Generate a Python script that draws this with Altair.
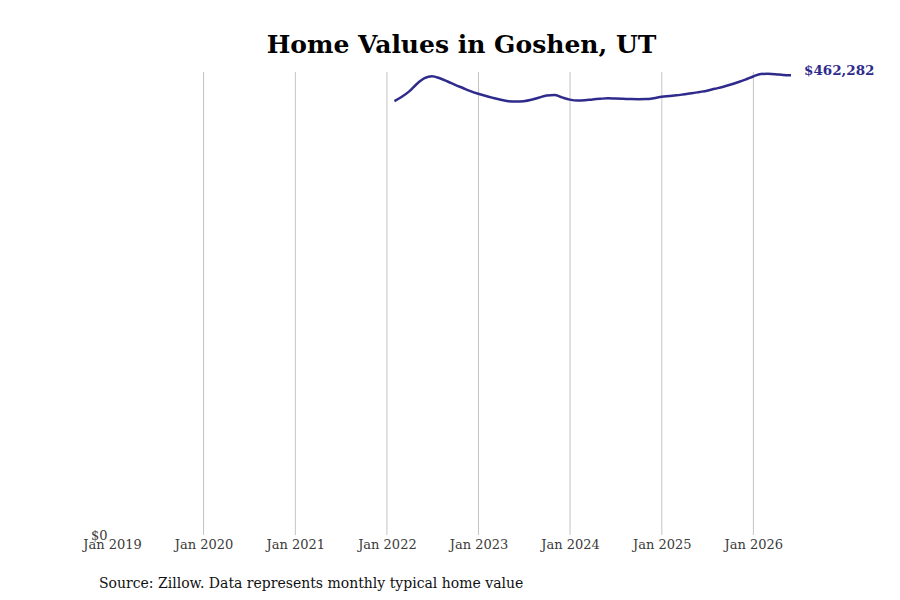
import pandas as pd
import altair as alt

# ── data ───────────────────────────────────────────────────────────────────────

MONTHS = pd.date_range("2022-01-31", periods=53, freq="ME").strftime("%Y-%m-%d").tolist()

HOME_VALUES = [
    436400, 440450, 446080, 453530, 459360, 461370, 459260, 456040, 452720, 449500, 446390, 443770,
    441460, 439550, 437640, 436230, 435830, 436230, 437640, 439950, 441960, 442460, 440050, 437840,
    436930, 437240, 438040, 438650, 439150, 438940, 438650, 438340, 438240, 438340, 439250, 440650,
    441460, 442160, 443170, 444170, 445480, 446790, 448700, 450510, 452820, 455340, 457950, 461070,
    463580, 463880, 463380, 462500, 462282,
]

GRID_YEARS = ["2020-01-01", "2021-01-01", "2022-01-01", "2023-01-01",
              "2024-01-01", "2025-01-01", "2026-01-01"]
TICK_YEARS = ["2019-01-01"] + GRID_YEARS

TITLE = "Home Values in Goshen, UT"
SOURCE = "Source: Zillow. Data represents monthly typical home value"

# ── styling ────────────────────────────────────────────────────────────────────

FONT = "DejaVu Serif"
LINE_COLOR = "#2f2b8c"
W, H = 679, 463

df = pd.DataFrame({"date": MONTHS, "value": HOME_VALUES})
last = df.tail(1).assign(label=lambda d: d["value"].map(lambda v: f"${v:,}"))
grid = pd.DataFrame({"date": GRID_YEARS})

x_scale = alt.Scale(type="utc", domain=["2019-01-01", MONTHS[-1]])
y_scale = alt.Scale(domain=[0, 465600], nice=False)

x_axis = alt.Axis(
    values=TICK_YEARS, format="%b %Y", grid=False, domain=False, ticks=False,
    labelFont=FONT, labelFontSize=13, labelColor="#3a3a3a", labelPadding=3,
    labelFlush=False, labelOverlap=False,
)
y_axis = alt.Axis(
    values=[0], format="$,.0f", grid=False, domain=False, ticks=False,
    labelFont=FONT, labelFontSize=13, labelColor="#3a3a3a", labelPadding=5,
)

rules = alt.Chart(grid).mark_rule(color="#c4c4c4", strokeWidth=1).encode(
    x=alt.X("date:T", scale=x_scale, axis=x_axis, title=None),
    y=alt.value(0),
    y2=alt.value(H),
)

line = alt.Chart(df).mark_line(
    color=LINE_COLOR, strokeWidth=2.5, interpolate="monotone"
).encode(
    x=alt.X("date:T", scale=x_scale, axis=x_axis, title=None),
    y=alt.Y("value:Q", scale=y_scale, axis=y_axis, title=None),
)

end_label = alt.Chart(last).mark_text(
    align="left", baseline="middle", dx=13, dy=-4,
    font=FONT, fontSize=13.5, fontWeight="bold", color=LINE_COLOR,
).encode(
    x=alt.X("date:T", scale=x_scale),
    y=alt.Y("value:Q", scale=y_scale),
    text="label:N",
)

source = alt.Chart(last).mark_text(
    align="left", baseline="middle", font=FONT, fontSize=14, color="#111111",
).encode(
    x=alt.value(-13),
    y=alt.value(H + 49),
    text=alt.value(SOURCE),
)

chart = (
    (rules + line + end_label + source)
    .properties(
        width=W,
        height=H,
        autosize=alt.AutoSizeParams(type="none"),
        padding={"left": 104, "top": 64, "right": 100, "bottom": 70},
        title=alt.TitleParams(
            text=TITLE, font=FONT, fontSize=25, fontWeight="bold",
            color="#000000", anchor="middle", dx=10, offset=6,
        ),
    )
    .configure(background="white")
    .configure_view(strokeWidth=0, stroke="transparent")
)

chart.save("out.html", embed_options={"renderer": "svg", "actions": False})
